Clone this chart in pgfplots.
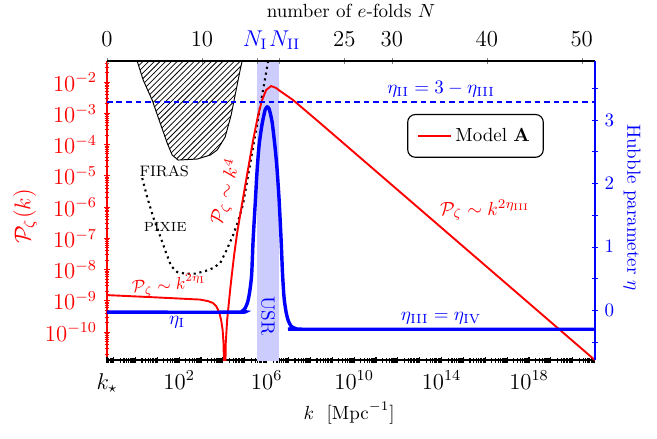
\documentclass[border=0pt]{standalone}
\usepackage{pgfplots}
\pgfplotsset{compat=1.18}
\usetikzlibrary{patterns}
\begin{document}
\begin{tikzpicture}
\def\xminorlist{6e-2,7e-2,8e-2,9e-2}
\foreach \e in {-1,...,20} {\foreach \m in {2,...,9} {\xdef\xminorlist{\xminorlist,\m e\e}}}
\def\yminorlist{2e-11,3e-11,4e-11,5e-11,6e-11,7e-11,8e-11,9e-11}
\foreach \e in {-10,...,-2} {\foreach \m in {2,...,4} {\xdef\yminorlist{\yminorlist,\m e\e}}}
\foreach \e in {-10,...,-3} {\foreach \m in {5,...,9} {\xdef\yminorlist{\yminorlist,\m e\e}}}
\begin{axis}[name=main,
  scale only axis, width=256.8pt, height=157.4pt,
  xmode=log, xmin=0.05, xmax=1.05e21, tick align=inside,
  major tick length=3.5pt, minor tick length=2.5pt,
  ymode=log, ymin=1.27e-11, ymax=0.047,
  axis x line=bottom, axis y line=left,
  x axis line style={-, line width=0.9pt},
  y axis line style={-, red, line width=0.7pt},
  xtick={1e-1,1,1e1,1e2,1e3,1e4,1e5,1e6,1e7,1e8,1e9,1e10,1e11,1e12,1e13,1e14,1e15,1e16,1e17,1e18,1e19,1e20,1e21},
  minor xtick/.expand once=\xminorlist,
  minor ytick/.expand once=\yminorlist,
  xticklabels={},
  extra x ticks={0.05,1e2,1e6,1e10,1e14,1e18},
  extra x tick labels={$k_\star$,$10^{2}$,$10^{6}$,$10^{10}$,$10^{14}$,$10^{18}$},
  xticklabel style={font=\large, text height=10pt},
  ytick={1e-10,1e-9,1e-8,1e-7,1e-6,1e-5,1e-4,1e-3,1e-2},
  yticklabel style={font=\large, text=red},
  y tick style={red, line width=0.5pt},
  x tick style={black, line width=0.6pt},
  xlabel={$k\ \ [\mathrm{Mpc}^{-1}]$},
  xlabel style={at={(axis description cs:0.496,-0.177)}, anchor=center},
  ylabel={$\mathcal{P}_\zeta(k)$},
  ylabel style={at={(axis description cs:-0.168,0.48)}, anchor=center, red, font=\large},
  legend style={at={(0.615,0.823)}, anchor=north west, draw=black, rounded corners=4pt, line width=0.6pt, inner xsep=5pt, inner ysep=5pt, font=\normalsize},
  legend cell align=left,
]
% USR band
\addplot[fill=blue!20, draw=none, forget plot] coordinates {(3.648e5,1e-13) (3.636e6,1e-13) (3.636e6,1) (3.648e5,1)} -- cycle;
% FIRAS
\addplot[pattern=north east lines, draw=black, line width=0.5pt, forget plot] coordinates {
(1.08,1) (1.20,0.047) (2.26,0.0116) (5.83,2.65e-3) (13.5,4.88e-4) (28.3,1.12e-4) (47.9,4.61e-5) (90,3.19e-5) (665,3.44e-5) (2612,4.61e-5) (5458,6.67e-5) (12670,1.74e-4) (23820,8.79e-4) (40380,5.55e-3) (61500,0.0242) (75900,0.047) (84300,1)} -- cycle;
% PIXIE + k^4
\addplot[black, dotted, line width=1.1pt, forget plot] coordinates {
(2.04,8.47e-6) (3.44,2.09e-6) (6.47,4.79e-7) (13.5,1.18e-7) (25.5,3.37e-8) (43.1,1.29e-8) (81.1,8.32e-9) (188,7.45e-9) (539,7.45e-9) (1545,8.95e-9) (3584,1.12e-8) (7482,1.61e-8) (14090,3.91e-8) (29420,1.27e-7) (49800,3.56e-7) (84300,1.25e-6) (1.172e6,0.047) (1.607e6,0.166)};
% Model A
\addplot[red, line width=1pt] coordinates {
(0.05,1.53e-9) (4.72,1.32e-9) (318,1.14e-9) (912,1.10e-9) (2118,9.8e-10) (3584,8.5e-10) (4909,6.8e-10) (6745,4.37e-10) (8318,2.42e-10) (9750,1.16e-10) (10820,3.84e-11) (11640,1e-13) (12420,1e-13) (13360,3.84e-11) (15630,2.42e-10) (18310,7.31e-10) (21440,2.21e-9) (26470,8.32e-9) (32680,2.91e-8) (44770,1.47e-7) (61500,5.55e-7) (115600,7.31e-6) (241500,1.39e-4) (408500,8.79e-4) (622300,2.65e-3) (948400,5.55e-3) (1.607e6,7.45e-3) (2.718e6,6.43e-3) (4.14e6,5.15e-3) (1.626e7,2.65e-3) (2.79e8,4.88e-4) (1.04e21,1.27e-11)};
\addlegendentry{Model \textbf{A}}
\node[font=\footnotesize] at (axis cs:20.6,1.42e-5) {FIRAS};
\node[font=\scriptsize] at (axis cs:22.9,2.29e-7) {PIXIE};
\node[red, font=\small, rotate=4] at (axis cs:34.9,3.19e-9) {$\mathcal{P}_\zeta\sim k^{2\eta_{\mathrm{I}}}$};
\node[red, rotate=74] at (axis cs:14090,3.02e-6) {$\mathcal{P}_\zeta\sim k^4$};
\node[red] at (axis cs:9.8e15,8.0e-7) {$\mathcal{P}_\zeta\sim k^{2\eta_{\mathrm{III}}}$};
\node[blue] at (axis cs:81,2.09e-10) {$\eta_{\mathrm{I}}$};
\node[blue, rotate=-90] at (axis cs:1.17e6,3.25e-10) {USR};
\node[blue] at (axis cs:9.5e13,5.97e-3) {$\eta_{\mathrm{II}}=3-\eta_{\mathrm{III}}$};
\node[blue] at (axis cs:9.5e13,2.8e-10) {$\eta_{\mathrm{III}}=\eta_{\mathrm{IV}}$};
\end{axis}
\begin{axis}[at={(main.south west)}, anchor=south west,
  scale only axis, width=256.8pt, height=157.4pt,
  xmode=log, xmin=0.05, xmax=1.05e21, tick align=inside,
  major tick length=3pt, minor tick length=3pt,
  ymin=-0.79, ymax=3.93,
  axis x line=top, axis y line=right,
  x axis line style={-, line width=0.9pt},
  y axis line style={-, blue, line width=0.6pt},
  xtick={0.05,1101.3,3.648e5,3.636e6,3.600e9,5.343e11,1.177e16,2.592e20},
  xticklabels={$0$,$10$,{\textcolor{blue}{$N_{\mathrm{I}}$}\hspace*{2pt}},{\hspace*{6pt}\textcolor{blue}{$N_{\mathrm{II}}$}},$25$,$30$,$40$,$50$},
  xminorticks=false,
  xticklabel style={font=\large, text depth=0pt, yshift=2.8pt},
  ytick={0,1,2,3}, minor ytick={-0.5,0.5,1.5,2.5,3.5},
  yticklabel style={text=blue},
  y tick style={blue},
  xlabel={number of $e$-folds $N$},
  xlabel style={at={(axis description cs:0.5,1.167)}, anchor=center},
  ylabel={Hubble parameter $\eta$},
  ylabel style={at={(axis description cs:1.076,0.51)}, anchor=center, rotate=180, blue},
]
\addplot[blue, line width=0.8pt, dash pattern=on 3pt off 2pt] coordinates {(0.05,3.28) (1.05e21,3.28)};
\addplot[blue, line width=1.8pt, smooth, tension=0.4] coordinates {
(0.05,-0.033) (4.98e4,-0.033) (7.59e4,-0.017) (1.04e5,0.03) (1.353e5,0.125) (1.67e5,0.283) (2.06e5,0.551) (2.41e5,1.104) (2.98e5,1.657) (3.68e5,2.21) (4.54e5,2.605) (6.22e5,2.937) (8.53e5,3.158) (1.054e6,3.205) (1.30e6,3.174) (1.78e6,2.968) (2.45e6,2.558) (3.02e6,2.21) (3.73e6,1.736) (4.60e6,1.104) (5.38e6,0.551) (6.31e6,0.188) (7.78e6,-0.033) (9.61e6,-0.16) (1.318e7,-0.254) (2.23e7,-0.294) (5.75e7,-0.302) (1.05e21,-0.302)};
\end{axis}
\pgfresetboundingbox
\path ([shift={(-56.3pt,-41.05pt)}]main.south west) rectangle ([shift={(32.6pt,32.1pt)}]main.north east);
\end{tikzpicture}
\end{document}
